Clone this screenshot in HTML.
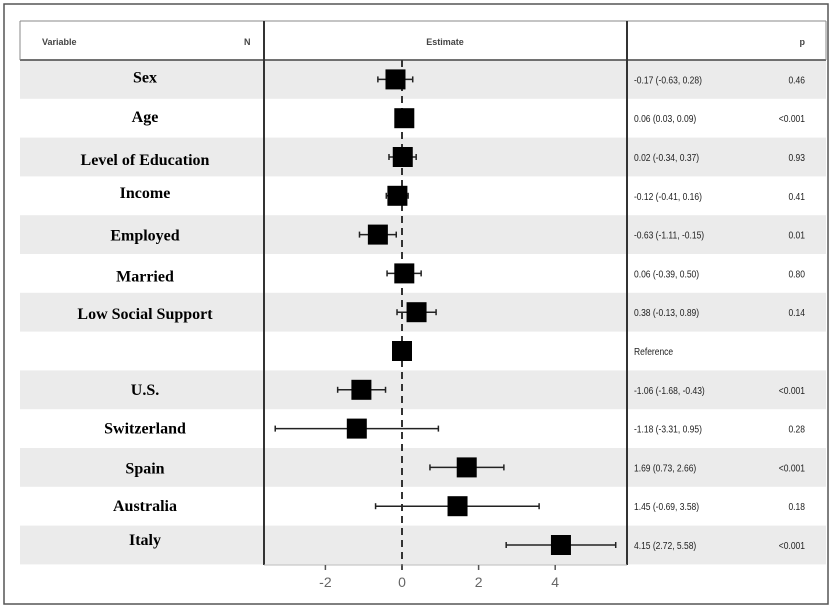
<!DOCTYPE html>
<html><head><meta charset="utf-8"><style>
body{margin:0;background:#fff;}
svg{display:block;font-family:"Liberation Sans",sans-serif;}
.lab{font-family:"Liberation Serif",serif;font-weight:bold;font-size:16px;}
.sm{font-size:10px;}
</style></head><body>
<svg id="c" width="832" height="609">
<rect x="4" y="4" width="824" height="600" fill="#fff" stroke="#555" stroke-width="1.5"/>
<g id="rows"></g>
<line x1="20" y1="21" x2="826" y2="21" stroke="#888"/>
<line x1="20" y1="60" x2="826" y2="60" stroke="#444" stroke-width="1.5"/>
<line x1="20" y1="21" x2="20" y2="60" stroke="#888"/>
<line x1="264" y1="21" x2="264" y2="565" stroke="#333" stroke-width="2"/>
<line x1="627" y1="21" x2="627" y2="565" stroke="#333" stroke-width="2"/>
<line x1="826" y1="21" x2="826" y2="60" stroke="#888"/>
<text x="42" y="45" font-size="9" font-weight="bold" fill="#444">Variable</text>
<text x="244" y="45" font-size="9" font-weight="bold" fill="#444">N</text>
<text x="445" y="45" font-size="9" font-weight="bold" fill="#444" text-anchor="middle">Estimate</text>
<text x="805" y="45" font-size="9" font-weight="bold" fill="#444" text-anchor="end">p</text>
<g id="marks"></g>
<g id="axis"></g>
</svg>
<script>
const labels=["Sex","Age","Level of Education","Income","Employed","Married","Low Social Support","","U.S.","Switzerland","Spain","Australia","Italy"];
const estimates=[-0.17,0.06,0.02,-0.12,-0.63,0.06,0.38,0,-1.06,-1.18,1.69,1.45,4.15];
const lower=[-0.63,0.03,-0.34,-0.41,-1.11,-0.39,-0.13,0,-1.68,-3.31,0.73,-0.69,2.72];
const upper=[0.28,0.09,0.37,0.16,-0.15,0.50,0.89,0,-0.43,0.95,2.66,3.58,5.58];
const ciText=["-0.17 (-0.63, 0.28)","0.06 (0.03, 0.09)","0.02 (-0.34, 0.37)","-0.12 (-0.41, 0.16)","-0.63 (-1.11, -0.15)","0.06 (-0.39, 0.50)","0.38 (-0.13, 0.89)","Reference","-1.06 (-1.68, -0.43)","-1.18 (-3.31, 0.95)","1.69 (0.73, 2.66)","1.45 (-0.69, 3.58)","4.15 (2.72, 5.58)"];
const pText=["0.46","<0.001","0.93","0.41","0.01","0.80","0.14","","<0.001","0.28","<0.001","0.18","<0.001"];
const ticks=[-2,0,2,4];
const labelShift=[-2,-1,3,-3,1,3,2,0,0,0,1,0,-5];
const NS="http://www.w3.org/2000/svg";
const x=v=>402+v*38.3;
const rowTop=i=>60+i*38.8;
const yc=i=>rowTop(i)+19.4;
function mk(p,t,a){const e=document.createElementNS(NS,t);for(const k in a)e.setAttribute(k,a[k]);p.appendChild(e);return e;}
const rows=document.getElementById('rows'),marks=document.getElementById('marks'),axis=document.getElementById('axis');
labels.forEach((l,i)=>{
  if(i%2===0){const r=mk(rows,'rect',{x:20,y:rowTop(i),width:806,height:38.8,fill:'#ebebeb'});
  
  }
  const t=mk(rows,'text',{x:145,y:yc(i)+5+labelShift[i],'text-anchor':'middle',class:'lab'});t.textContent=l;
  
  
  const c=mk(rows,'text',{x:634,y:yc(i)+4,class:'sm',fill:'#222'});c.textContent=ciText[i];
  c.setAttribute('transform',`translate(634 0) scale(0.85 1) translate(-634 0)`);
  
  
  const p=mk(rows,'text',{x:805,y:yc(i)+4,class:'sm','text-anchor':'end',fill:'#222'});p.textContent=pText[i];
  p.setAttribute('transform',`translate(805 0) scale(0.85 1) translate(-805 0)`);
  
  
});
const z=mk(marks,'line',{x1:x(0),y1:60,x2:x(0),y2:570,stroke:'#333','stroke-width':2,'stroke-dasharray':'7,5'});


estimates.forEach((e,i)=>{
  const y=yc(i);
  if(upper[i]!==lower[i]){
    const l=mk(marks,'line',{x1:x(lower[i]),x2:x(upper[i]),y1:y,y2:y,stroke:'#222','stroke-width':1.5});
    
    
    [lower[i],upper[i]].forEach(v=>{const c=mk(marks,'line',{x1:x(v),x2:x(v),y1:y-3,y2:y+3,stroke:'#222','stroke-width':1.5});
    
    });
  }
  const b=mk(marks,'rect',{x:x(e)-10,y:y-10,width:20,height:20,fill:'#000'});
  
  
});
const bl=mk(axis,'line',{x1:264,x2:627,y1:565,y2:565,stroke:'#bbb'});


ticks.forEach(t=>{
  const tk=mk(axis,'line',{x1:x(t),x2:x(t),y1:565,y2:570,stroke:'#555','stroke-width':1.5});
  
  
  const tl=mk(axis,'text',{x:x(t),y:587,'text-anchor':'middle','font-size':14,fill:'#666'});tl.textContent=t;
  
  
});
</script>
</body></html>
